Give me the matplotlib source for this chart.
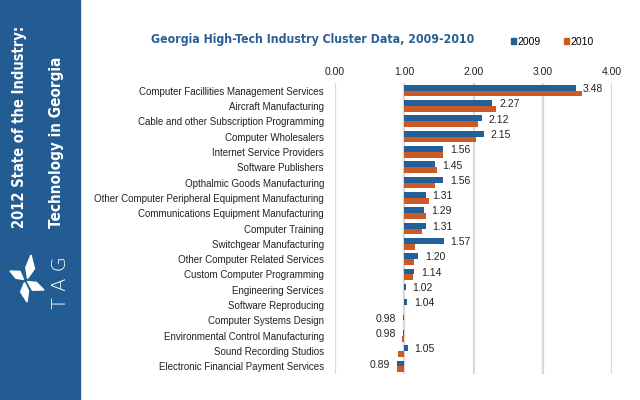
import numpy as np
import matplotlib
matplotlib.use("Agg")
import matplotlib.pyplot as plt
from matplotlib import font_manager as fm
from matplotlib.patches import Rectangle, Polygon, Patch

categories = [
    "Computer Facillities Management Services",
    "Aircraft Manufacturing",
    "Cable and other Subscription Programming",
    "Computer Wholesalers",
    "Internet Service Providers",
    "Software Publishers",
    "Opthalmic Goods Manufacturing",
    "Other Computer Peripheral Equipment Manufacturing",
    "Communications Equipment Manufacturing",
    "Computer Training",
    "Switchgear Manufacturing",
    "Other Computer Related Services",
    "Custom Computer Programming",
    "Engineering Services",
    "Software Reproducing",
    "Computer Systems Design",
    "Environmental Control Manufacturing",
    "Sound Recording Studios",
    "Electronic Financial Payment Services",
]
v2009 = [3.48, 2.27, 2.12, 2.15, 1.56, 1.45, 1.56, 1.31, 1.29, 1.31,
         1.57, 1.20, 1.14, 1.02, 1.04, 0.98, 0.98, 1.05, 0.89]
v2010 = [3.57, 2.33, 2.07, 2.03, 1.56, 1.48, 1.45, 1.36, 1.32, 1.25,
         1.16, 1.14, 1.13, 0.99, 0.99, 0.99, 0.97, 0.91, 0.90]
series = ["2009", "2010"]
xticks = [0, 1, 2, 3, 4]
base = 1.0

blue = "#255f99"
orange = "#cc5a26"
side = "#235c93"
plt.rcParams["font.family"] = ["Liberation Sans", "DejaVu Sans"]


# look for a condensed / narrow bold face, else plain bold
def narrow_font():
    for f in fm.fontManager.ttflist:
        fn = f.fname.lower()
        if ("condensed" in fn or "narrow" in fn) and "bold" in fn and "italic" not in fn \
                and "oblique" not in fn and "semibold" not in fn:
            return fm.FontProperties(fname=f.fname)
    return fm.FontProperties(family="DejaVu Sans", weight="bold")


nfont = narrow_font()

W, H = 640, 400
fig = plt.figure(figsize=(6.4, 4.0), dpi=100)
fig.patches.append(Rectangle((0, 0), 80 / W, 1, transform=fig.transFigure,
                             color=side, zorder=-1))
rend = fig.canvas.get_renderer()


def fit(t, target, vertical=False):
    bb = t.get_window_extent(renderer=rend)
    cur = bb.height if vertical else bb.width
    t.set_fontsize(t.get_fontsize() * target / cur)


# sidebar text
s1 = fig.text(20 / W, 1 - 228 / H, "2012 State of the Industry:", rotation=90,
              ha="center", va="bottom", color="white", fontproperties=nfont)
s1.set_fontsize(14)
fit(s1, 203, vertical=True)
s2 = fig.text(57 / W, 1 - 228 / H, "Technology in Georgia", rotation=90,
              ha="center", va="bottom", color="white", fontproperties=nfont)
s2.set_fontsize(14)
fit(s2, 173, vertical=True)
fig.text(60 / W, 1 - 283 / H, "T A G", rotation=90, ha="center", va="center",
         color="white", fontsize=14, family=["DejaVu Sans"], fontweight="light")

# logo mark (pinwheel), drawn in pixel units
lax = fig.add_axes([5 / W, 1 - 307 / H, 45 / W, 55 / H])
lax.set_xlim(5, 50)
lax.set_ylim(307, 252)
lax.axis("off")
c = np.array([25.5, 280.5])
for tip, w, sh in [((31, 255), 5.5, (2, -2)), ((10, 271), 5.0, (-2, -1)),
                   ((27, 302), 5.0, (-1, 2)), ((44, 290), 5.5, (2, 1))]:
    tip = np.array(tip, float)
    st = c + np.array(sh, float)
    d = tip - st
    perp = np.array([-d[1], d[0]]) / np.hypot(*d)
    mid = st + 0.45 * d
    pts = [st, mid + perp * w, tip, mid - perp * w * 0.6]
    lax.add_patch(Polygon(pts, closed=True, color="white"))

# title
tt = fig.text(151 / W, 1 - 39 / H, "Georgia High-Tech Industry Cluster Data, 2009-2010",
              ha="left", va="center", color="#2b5e95", fontproperties=nfont)
tt.set_fontsize(12)
fit(tt, 322)

ax = fig.add_axes([335 / W, 1 - 374 / H, 277 / W, 291 / H])
y = np.arange(len(categories))
h = 0.38
ax.barh(y - h / 2, np.array(v2009) - base, left=base, height=h, color=blue, zorder=3)
ax.barh(y + h / 2, np.array(v2010) - base, left=base, height=h, color=orange, zorder=3)

for yi, v in zip(y, v2009):
    off = 5 if v >= base else -5
    ax.annotate(f"{v:.2f}", (v, yi - h / 2 + 0.08), xytext=(off, 0),
                textcoords="offset points", va="center",
                ha="left" if v >= base else "right", fontsize=7.5, color="#222222")

ax.set_xlim(0, 4)
ax.set_ylim(len(categories) - 0.5, -0.5)
ax.set_xticks(xticks)
ax.set_xticklabels([f"{t:.2f}" for t in xticks])
ax.xaxis.tick_top()
ax.tick_params(axis="x", length=0, pad=4, labelsize=7.5, colors="#222222")
ax.set_yticks(y)
ax.set_yticklabels(categories)
ax.tick_params(axis="y", length=0, pad=8, labelsize=7, colors="#222222")
ax.grid(axis="x", color="#d9d9d9", linewidth=1.6, zorder=0)
ax.set_axisbelow(True)
for s in ax.spines.values():
    s.set_visible(False)

handles = [Patch(color=blue), Patch(color=orange)]
fig.legend(handles, series, loc="center left",
           bbox_to_anchor=(511 / W, 1 - 42 / H), ncol=2, frameon=False,
           fontsize=7.5, handlelength=0.5, handleheight=0.5, handletextpad=0.15,
           columnspacing=2.2, borderpad=0, borderaxespad=0)

fig.savefig("out.png", dpi=100)
